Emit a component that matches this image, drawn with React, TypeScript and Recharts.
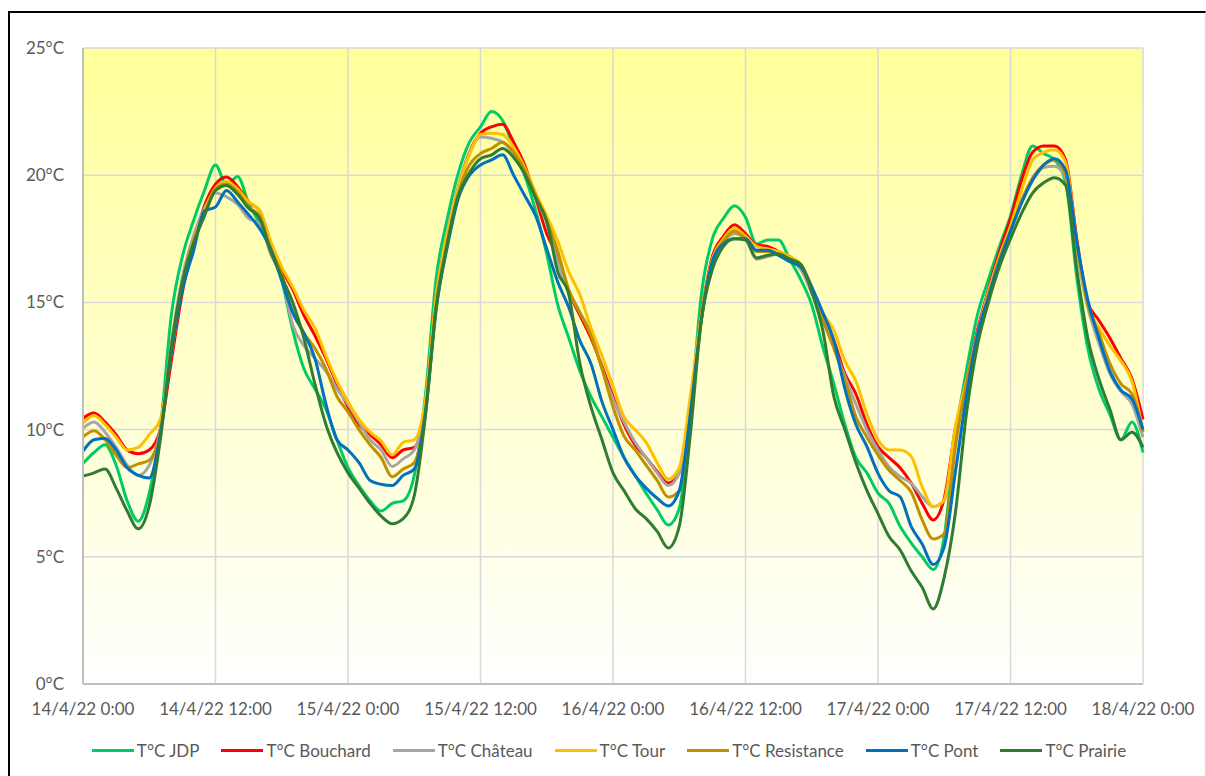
import React from 'react'
import { LineChart, Line, XAxis, YAxis, CartesianGrid } from 'recharts'

// hourly readings, 14/4/22 0:00 -> 18/4/22 0:00
const hours = Array.from({ length: 97 }, (_, i) => i)

const xTicks = [0, 12, 24, 36, 48, 60, 72, 84, 96]
const xLabels = [
  '14/4/22 0:00', '14/4/22 12:00', '15/4/22 0:00', '15/4/22 12:00', '16/4/22 0:00',
  '16/4/22 12:00', '17/4/22 0:00', '17/4/22 12:00', '18/4/22 0:00',
]
const yTicks = [0, 5, 10, 15, 20, 25]

const jdp = [
  8.67, 9.1, 9.4, 8.6, 7.2, 6.4, 7.5, 10.0, 14.5, 16.8, 18.2, 19.4, 20.4,
  19.6, 19.95, 18.9, 18.1, 17.3, 15.9, 13.9, 12.4, 11.6, 10.8, 9.6, 8.5,
  7.8, 7.2, 6.8, 7.1, 7.2, 8.2, 11.3, 16.0, 18.3, 20.1, 21.3, 21.9,
  22.5, 22.15, 21.1, 20.0, 18.6, 16.9, 14.9, 13.6, 12.3, 11.3, 10.5, 9.7,
  8.9, 8.2, 7.5, 6.85, 6.25, 6.9, 10.5, 15.3, 17.5, 18.3, 18.8, 18.35,
  17.3, 17.45, 17.45, 16.7, 15.9, 14.9, 13.25, 11.8, 10.2, 8.9, 8.3, 7.5,
  7.1, 6.2, 5.55, 5.0, 4.5, 5.8, 9.7, 12.3, 14.5, 15.9, 17.2, 18.4,
  20.0, 21.15, 20.85, 20.6, 19.7, 16.0, 13.2, 11.6, 10.6, 9.6, 10.3, 9.1,
]
const bouchard = [
  10.45, 10.65, 10.3, 9.8, 9.2, 9.05, 9.2, 10.0, 12.7, 15.4, 17.3, 18.8, 19.65,
  19.93, 19.55, 18.95, 18.6, 17.35, 16.3, 15.5, 14.5, 13.7, 12.8, 11.8, 10.9,
  10.2, 9.8, 9.4, 8.9, 9.2, 9.3, 10.9, 15.3, 17.7, 19.5, 20.9, 21.65,
  21.9, 22.0, 21.3, 20.4, 19.1, 17.7, 16.8, 15.4, 14.5, 13.6, 12.5, 11.3,
  10.2, 9.4, 8.9, 8.35, 7.9, 8.3, 11.0, 14.5, 16.8, 17.6, 18.05, 17.7,
  17.25, 17.2, 17.0, 16.8, 16.4, 15.4, 14.4, 13.5, 12.2, 11.4, 10.2, 9.33,
  8.9, 8.5, 7.9, 7.1, 6.45, 7.3, 10.0, 11.9, 13.9, 15.5, 17.0, 18.3,
  19.8, 20.9, 21.15, 21.15, 20.6, 17.5, 15.0, 14.3, 13.6, 12.8, 12.0, 10.4,
]
const chateau = [
  10.05, 10.3, 9.9, 9.3, 8.6, 8.2, 8.6, 10.0, 13.4, 16.0, 17.6, 18.7, 19.3,
  19.15, 18.85, 18.3, 18.1, 16.9, 16.0, 14.1, 13.3, 12.8, 12.3, 11.6, 11.0,
  10.3, 9.6, 9.2, 8.55, 8.85, 9.2, 11.0, 15.3, 17.8, 19.6, 20.9, 21.5,
  21.45, 21.3, 20.85, 20.1, 19.15, 18.1, 16.6, 15.4, 14.6, 13.8, 12.4, 11.2,
  10.3, 9.5, 8.9, 8.3, 7.8, 8.3, 11.0, 14.4, 16.6, 17.4, 17.7, 17.5,
  16.7, 16.8, 16.9, 16.7, 16.3, 15.4, 14.5, 13.25, 12.1, 11.0, 9.98, 9.2,
  8.54, 8.15, 7.9, 7.36, 6.97, 7.2, 9.85, 11.9, 13.8, 15.4, 16.8, 17.9,
  19.0, 19.8, 20.3, 20.35, 19.9, 17.0, 14.8, 13.4, 12.2, 11.5, 11.0, 9.7,
]
const tour = [
  10.25, 10.55, 10.2, 9.7, 9.2, 9.3, 9.8, 10.4, 13.0, 15.7, 17.4, 18.6, 19.5,
  19.75, 19.45, 18.95, 18.6, 17.4, 16.4, 15.6, 14.7, 14.0, 12.9, 11.9, 11.1,
  10.4, 9.9, 9.55, 9.0, 9.5, 9.6, 11.1, 15.3, 17.7, 19.5, 20.8, 21.6,
  21.65, 21.6, 21.1, 20.3, 19.3, 18.4, 17.4, 16.2, 15.3, 14.0, 12.9, 11.7,
  10.5, 10.0, 9.5, 8.7, 8.05, 8.5, 11.3, 14.5, 16.7, 17.5, 17.9, 17.6,
  17.2, 17.1, 17.0, 16.8, 16.5, 15.6, 14.6, 13.9, 12.7, 11.9, 10.6, 9.6,
  9.2, 9.2, 8.95, 7.75, 6.97, 7.25, 10.1, 11.9, 13.7, 15.4, 16.8, 18.0,
  19.4, 20.6, 20.9, 21.0, 20.5, 17.3, 14.9, 14.0, 13.3, 12.7, 11.9, 9.9,
]
const resistance = [
  9.7, 9.95, 9.6, 9.0, 8.5, 8.65, 8.8, 9.9, 13.3, 15.8, 17.4, 18.5, 19.45,
  19.65, 19.35, 18.75, 18.4, 17.1, 16.1, 14.6, 13.8, 13.2, 12.4, 11.3, 10.7,
  10.0, 9.4, 8.9, 8.15, 8.45, 8.7, 10.7, 15.0, 17.4, 19.3, 20.4, 20.85,
  21.05, 21.3, 20.9, 20.2, 19.2, 18.2, 17.0, 15.5, 14.6, 13.7, 12.4, 10.9,
  9.75, 9.2, 8.6, 8.0, 7.35, 7.6, 10.5, 14.3, 16.6, 17.4, 17.8, 17.5,
  17.0, 17.0, 16.9, 16.7, 16.5, 15.6, 14.3, 13.2, 11.95, 10.5, 9.7, 9.0,
  8.4, 8.0, 7.55, 6.45, 5.7, 5.9, 9.3, 11.8, 13.7, 15.3, 16.7, 17.8,
  19.0, 19.9, 20.4, 20.6, 20.0, 17.3, 14.9, 13.8, 12.6, 11.8, 11.4, 9.9,
]
const pont = [
  9.15, 9.6, 9.65, 9.2, 8.5, 8.2, 8.1, 9.8, 13.0, 15.5, 17.0, 18.6, 18.75,
  19.4, 18.95, 18.45, 17.9, 17.1, 15.85, 14.6, 13.8, 12.8, 11.0, 9.6, 9.2,
  8.7, 8.0, 7.85, 7.8, 8.2, 8.45, 10.6, 14.8, 17.2, 19.1, 20.0, 20.4,
  20.6, 20.8, 20.0, 19.2, 18.4, 17.1, 15.8, 14.8, 13.5, 12.6, 11.1, 10.0,
  8.9, 8.2, 7.7, 7.3, 7.0, 7.6, 10.6, 14.3, 16.6, 17.3, 17.5, 17.5,
  17.05, 17.05, 16.85, 16.6, 16.4, 15.6, 14.6, 13.5, 11.6, 10.2, 9.33, 8.28,
  7.6, 7.36, 6.2, 5.5, 4.7, 5.4, 8.3, 11.3, 13.7, 15.2, 16.6, 17.8,
  18.9, 19.8, 20.4, 20.65, 20.2, 17.4, 15.1, 13.6, 12.3, 11.55, 11.2, 10.0,
]
const prairie = [
  8.17, 8.3, 8.45, 7.7, 6.8, 6.1, 7.0, 9.6, 13.2, 15.8, 17.3, 18.4, 19.4,
  19.6, 19.25, 18.7, 18.3, 17.0, 16.0, 15.0, 13.6, 11.8, 10.2, 9.1, 8.3,
  7.7, 7.1, 6.6, 6.3, 6.5, 7.4, 10.5, 14.8, 17.3, 19.2, 20.1, 20.65,
  20.8, 21.05, 20.7, 20.05, 19.1, 18.2, 16.2, 15.3, 12.6, 10.9, 9.6, 8.3,
  7.6, 6.9, 6.5, 6.0, 5.35, 6.2, 9.8, 14.3, 16.3, 17.2, 17.5, 17.45,
  16.75, 16.85, 16.9, 16.7, 16.5, 15.4, 13.9, 11.3, 10.0, 8.7, 7.6, 6.7,
  5.8, 5.27, 4.45, 3.8, 2.95, 4.2, 6.7, 10.6, 13.3, 15.0, 16.4, 17.5,
  18.5, 19.3, 19.7, 19.9, 19.6, 16.3, 13.6, 12.0, 10.8, 9.6, 9.9, 9.3,
]

const series = [
  { key: 'jdp', name: 'T°C JDP', color: '#00CC66', values: jdp },
  { key: 'bouchard', name: 'T°C Bouchard', color: '#FF0000', values: bouchard },
  { key: 'chateau', name: 'T°C Château', color: '#A5A5A5', values: chateau },
  { key: 'tour', name: 'T°C Tour', color: '#FFC000', values: tour },
  { key: 'resistance', name: 'T°C Resistance', color: '#BF9000', values: resistance },
  { key: 'pont', name: 'T°C Pont', color: '#0070C0', values: pont },
  { key: 'prairie', name: 'T°C Prairie', color: '#2E7D32', values: prairie },
]

const data = hours.map((t, i) => {
  const row: Record<string, number> = { t }
  series.forEach(s => { row[s.key] = s.values[i] })
  return row
})

const FONT = 'Lato, "Open Sans", sans-serif'
const tickStyle = { fontSize: 17, fill: '#595959', fontFamily: FONT }

const App = () => {
  return (
    <div
      style={{
        position: 'absolute', left: 8, top: 11, width: 1195, height: 780,
        borderLeft: '2px solid #000', borderTop: '2px solid #000', borderRight: '1px solid #d9d9d9',
        background: '#fff',
      }}
    >
      <LineChart
        width={1195}
        height={763}
        data={data}
        margin={{ top: 35, right: 62, left: 0, bottom: 0 }}
      >
        <defs>
          <linearGradient id="plotBg" x1="0" y1="0" x2="0" y2="1">
            <stop offset="0%" stopColor="#FFFF99" />
            <stop offset="100%" stopColor="#FFFFFF" />
          </linearGradient>
        </defs>
        <CartesianGrid fill="url(#plotBg)" fillOpacity={1} stroke="#D9D9D9" strokeWidth={1.5} />
        <XAxis
          dataKey="t"
          type="number"
          domain={[0, 96]}
          ticks={xTicks}
          tickFormatter={v => xLabels[xTicks.indexOf(v)]}
          interval={0}
          height={92}
          tick={tickStyle}
          tickLine={false}
          tickSize={0}
          tickMargin={19}
          axisLine={{ stroke: '#BFBFBF', strokeWidth: 2 }}
        />
        <YAxis
          domain={[0, 25]}
          ticks={yTicks}
          tickFormatter={v => `${v}°C`}
          width={73}
          tick={tickStyle}
          tickLine={false}
          tickSize={0}
          tickMargin={19}
          axisLine={{ stroke: '#BFBFBF', strokeWidth: 2 }}
        />
        {series.map(s => (
          <Line
            key={s.key}
            type="monotone"
            dataKey={s.key}
            name={s.name}
            stroke={s.color}
            strokeWidth={3}
            dot={false}
            activeDot={false}
            isAnimationActive={false}
          />
        ))}
      </LineChart>
      <div
        style={{
          position: 'absolute', left: 80, top: 727, width: 1060, height: 20,
          display: 'flex', justifyContent: 'center', alignItems: 'center',
          fontFamily: FONT, fontSize: 17, color: '#595959', whiteSpace: 'nowrap',
        }}
      >
        {series.map(s => (
          <div key={s.key} style={{ display: 'flex', alignItems: 'center', marginRight: 22 }}>
            <span style={{ display: 'inline-block', width: 42, height: 3, background: s.color, marginRight: 3 }} />
            <span>{s.name}</span>
          </div>
        ))}
      </div>
    </div>
  )
}

export default App
